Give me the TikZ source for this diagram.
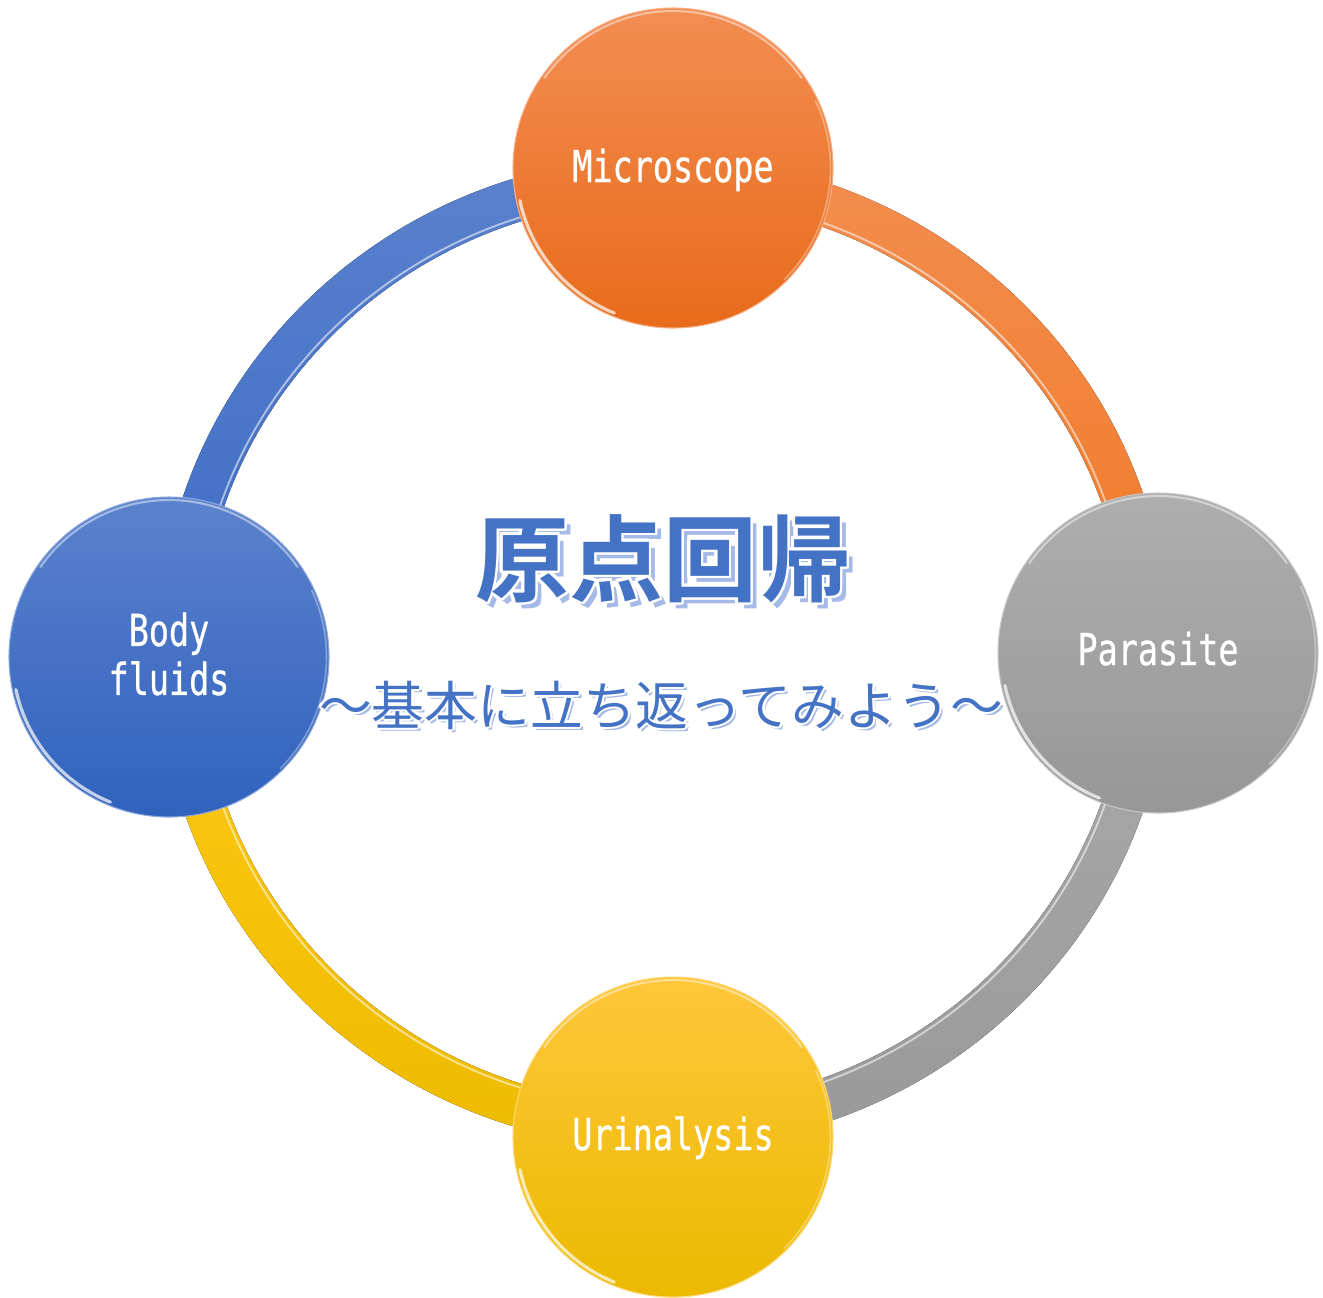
\documentclass[tikz,border=0pt]{standalone}
\usepackage{fontspec}
\usepackage{contour}
\usetikzlibrary{calc}
\newfontfamily\cjk{Noto Sans CJK JP}
\newfontfamily\cjkbold{Noto Sans CJK JP Bold}
\newfontfamily\lblfont[FakeStretch=0.76,FakeBold=0.6]{DejaVu Sans Mono}
\definecolor{tblue}{RGB}{68,114,196}
\definecolor{tshadow}{RGB}{165,186,230}
\definecolor{oTop}{RGB}{243,141,82}
\definecolor{oBot}{RGB}{232,107,26}
\definecolor{bTop}{RGB}{91,130,205}
\definecolor{bBot}{RGB}{48,98,189}
\definecolor{gTop}{RGB}{174,174,174}
\definecolor{gBot}{RGB}{151,151,151}
\definecolor{yTop}{RGB}{255,198,58}
\definecolor{yBot}{RGB}{235,186,0}
\definecolor{roTop}{RGB}{243,141,80}
\definecolor{roBot}{RGB}{240,122,38}
\definecolor{rbTop}{RGB}{90,129,204}
\definecolor{rbBot}{RGB}{61,108,198}
\definecolor{rgTop}{RGB}{170,170,170}
\definecolor{rgBot}{RGB}{153,153,153}
\definecolor{ryTop}{RGB}{255,201,20}
\definecolor{ryBot}{RGB}{237,187,0}
\newcommand\ringseg[4]{%
  \fill[top color=#3,bottom color=#4]
    ($(C)+(#1:506 and 496)$) arc[start angle=#1,end angle=#2,x radius=506,y radius=496]
    -- ($(C)+(#2:464 and 453)$) arc[start angle=#2,end angle=#1,x radius=464,y radius=453]
    -- cycle;
  \draw[white,opacity=0.55,line width=1.4pt]
    ($(C)+(#1:468 and 457)$) arc[start angle=#1,end angle=#2,x radius=468,y radius=457];
}
\tikzset{
  bubble/.style n args={2}{circle,inner sep=0pt,minimum size=240pt,
    top color=#1,bottom color=#2,draw=#1!70!white,line width=0.8pt},
  rim/.style={white,opacity=0.45,line width=1.6pt,line cap=round},
  lbl/.style={text=white,font=\lblfont\fontsize{33pt}{36.75pt}\selectfont,inner sep=0pt},
  ttl/.style={font=\cjkbold\fontsize{70.5pt}{80pt}\selectfont,inner sep=0pt,anchor=base},
  sub/.style={font=\cjk\fontsize{39.6pt}{45pt}\selectfont,inner sep=0pt,anchor=base}
}
\begin{document}
\begin{tikzpicture}[x=0.75pt,y=-0.75pt]
\useasboundingbox (0,0) rectangle (1323,1297);
\coordinate (C) at (663.5,652.5);
% ring
\ringseg{180}{270}{rbTop}{rbBot}
\ringseg{270}{360}{roTop}{roBot}
\ringseg{0}{90}{rgTop}{rgBot}
\ringseg{90}{180}{ryTop}{ryBot}
% bubbles
\node[bubble={oTop}{oBot}] (mic) at (673,168) {};
\node[bubble={gTop}{gBot}] (par) at (1158,653) {};
\node[bubble={yTop}{yBot}] (uri) at (673,1137) {};
\node[bubble={bTop}{bBot}] (bod) at (169,657) {};
\foreach \n in {mic,par,uri,bod}{
  \draw[rim] ($(\n.center)+(215:157)$) arc[start angle=215,end angle=325,radius=157];
  \draw[rim,opacity=0.7,line width=2.4pt] ($(\n.center)+(112:156.5)$) arc[start angle=112,end angle=168,radius=156.5];
  \draw[rim,opacity=0.35,line width=1.2pt] ($(\n.center)+(-25:157.5)$) arc[start angle=-25,end angle=45,radius=157.5];
}
% labels
\node[lbl,anchor=base] (micl) at (673,182) {Microscope};
\node[lbl,anchor=base] (parl) at (1158,665) {Parasite};
\node[lbl,anchor=base] (uril) at (673,1150) {Urinalysis};
\node[lbl,align=center,anchor=center] (bodl) at (169,654) {Body\\fluids};
% title
\contourlength{2.2pt}
\node[ttl,text=tshadow] (titles) at (669,600) {原点回帰};
\node[ttl,text=tblue] (title) at (663,594) {\contour{white}{原点回帰}};
\contourlength{1.6pt}
\node[sub,text=tshadow] (subs) at (664,728) {～基本に立ち返ってみよう～};
\node[sub,text=tblue] (subt) at (661,725) {\contour{white}{～基本に立ち返ってみよう～}};
\end{tikzpicture}
\end{document}
